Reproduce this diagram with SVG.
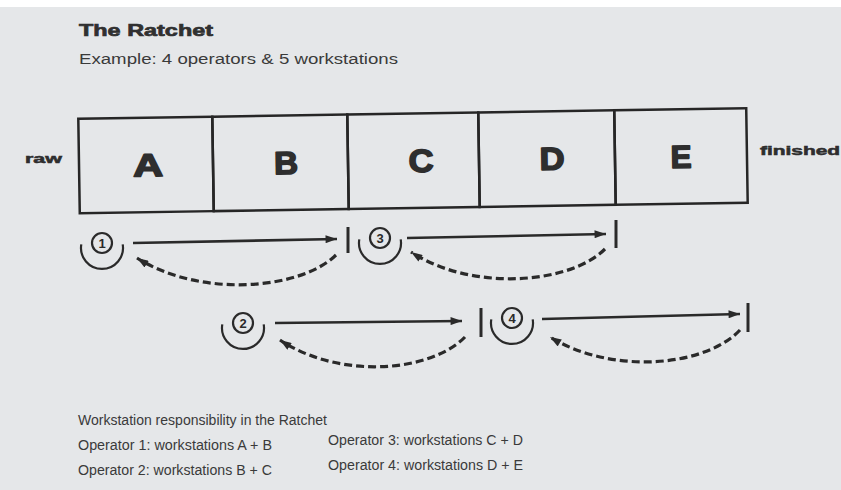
<svg xmlns="http://www.w3.org/2000/svg" width="841" height="490" viewBox="0 0 841 490">
<style>
.bg{fill:#e5e7e9}
.box{fill:none;stroke:#262626;stroke-width:2.5}
.letter{font-family:"Liberation Sans",Arial,sans-serif;font-weight:900;font-size:32px;fill:#2e2e2e;stroke:#2e2e2e;stroke-width:1.6;stroke-linejoin:round;text-anchor:middle}
.side{font-family:"Liberation Sans",Arial,sans-serif;font-weight:bold;font-size:12px;fill:#2e2e2e;stroke:#2e2e2e;stroke-width:0.5}
.title{font-family:"Liberation Sans",Arial,sans-serif;font-weight:900;font-size:17px;fill:#303030;stroke:#303030;stroke-width:0.7}
.sub{font-family:"Liberation Sans",Arial,sans-serif;font-size:14px;fill:#3a3a3a}
.foot{font-family:"Liberation Sans",Arial,sans-serif;font-size:14px;fill:#3a3a3a}
.ring{fill:none;stroke:#2a2a2a;stroke-width:2.2}
.num{font-family:"Liberation Sans",Arial,sans-serif;font-weight:bold;font-size:13px;fill:#2a2a2a;text-anchor:middle}
.solid{fill:none;stroke:#2a2a2a;stroke-width:2.6}
.dash{fill:none;stroke:#2a2a2a;stroke-width:3.2;stroke-dasharray:8 4}
.bar{stroke:#2a2a2a;stroke-width:3}
</style>
<defs>
<marker id="ah" viewBox="0 0 10 7" refX="10" refY="3.5" markerWidth="12" markerHeight="8" markerUnits="userSpaceOnUse" orient="auto">
<path d="M0,0 L10,3.5 L0,7 Z" fill="#2a2a2a"/>
</marker>
</defs>
<rect class="bg" x="0" y="0" width="841" height="490"/>
<rect x="0" y="0" width="841" height="7" fill="#ffffff"/>

<g id="title">
<text class="title" x="79" y="36" textLength="134" lengthAdjust="spacingAndGlyphs">The Ratchet</text>
<text class="sub" x="79" y="64" textLength="319" lengthAdjust="spacingAndGlyphs">Example: 4 operators &amp; 5 workstations</text>
</g>

<g id="line" transform="rotate(-0.9 413 161)">
<g id="ws-A"><rect class="box" x="79" y="113.5" width="134" height="94.5"/><text class="letter" x="148" y="172" textLength="30" lengthAdjust="spacingAndGlyphs">A</text></g>
<g id="ws-B"><rect class="box" x="213" y="113.5" width="135" height="94.5"/><text class="letter" x="286" y="172" textLength="24" lengthAdjust="spacingAndGlyphs">B</text></g>
<g id="ws-C"><rect class="box" x="348" y="113.5" width="131" height="94.5"/><text class="letter" x="421" y="172" textLength="25" lengthAdjust="spacingAndGlyphs">C</text></g>
<g id="ws-D"><rect class="box" x="479" y="113.5" width="136" height="94.5"/><text class="letter" x="552" y="172" textLength="25" lengthAdjust="spacingAndGlyphs">D</text></g>
<g id="ws-E"><rect class="box" x="615" y="113.5" width="132" height="94.5"/><text class="letter" x="681" y="172" textLength="21" lengthAdjust="spacingAndGlyphs">E</text></g>
</g>

<g id="raw"><text class="side" x="25" y="163" textLength="37" lengthAdjust="spacingAndGlyphs">raw</text></g>
<g id="finished"><text class="side" x="760" y="155" textLength="80" lengthAdjust="spacingAndGlyphs">finished</text></g>

<g id="op1">
<circle class="ring" cx="102" cy="243" r="10"/>
<path class="ring" d="M81.3,244.4 A21 21 0 1 0 122.7,244.4"/>
<text class="num" x="102" y="247.5">1</text>
</g>
<g id="op3">
<circle class="ring" cx="380" cy="238" r="10"/>
<path class="ring" d="M359.3,239.4 A21 21 0 1 0 400.7,239.4"/>
<text class="num" x="380" y="242.5">3</text>
</g>
<g id="op2">
<circle class="ring" cx="243" cy="323" r="10"/>
<path class="ring" d="M222.3,324.4 A21 21 0 1 0 263.7,324.4"/>
<text class="num" x="243" y="327.5">2</text>
</g>
<g id="op4">
<circle class="ring" cx="512" cy="318" r="10"/>
<path class="ring" d="M491.3,319.4 A21 21 0 1 0 532.7,319.4"/>
<text class="num" x="512" y="322.5">4</text>
</g>

<g id="connectors">
<line class="solid" x1="133" y1="243" x2="337" y2="239" marker-end="url(#ah)"/>
<line class="bar" x1="348" y1="227" x2="348" y2="253"/>
<path class="dash" d="M336,255 C300,290 200,298 137,258" marker-end="url(#ah)"/>

<line class="solid" x1="407" y1="238" x2="606" y2="234" marker-end="url(#ah)"/>
<line class="bar" x1="616" y1="220" x2="616" y2="248"/>
<path class="dash" d="M605,249 C570,284 472,292 411,252" marker-end="url(#ah)"/>

<line class="solid" x1="275" y1="323" x2="462" y2="321" marker-end="url(#ah)"/>
<line class="bar" x1="481" y1="308" x2="481" y2="337"/>
<path class="dash" d="M465,337 C431,372 340,380 280,340" marker-end="url(#ah)"/>

<line class="solid" x1="542" y1="319" x2="740" y2="314" marker-end="url(#ah)"/>
<line class="bar" x1="748" y1="303" x2="748" y2="332"/>
<path class="dash" d="M740,330 C705,367 612,375 550,337" marker-end="url(#ah)"/>
</g>

<g id="legend">
<text class="foot" x="78" y="425" textLength="249" lengthAdjust="spacingAndGlyphs">Workstation responsibility in the Ratchet</text>
<text class="foot" x="78" y="450" textLength="194" lengthAdjust="spacingAndGlyphs">Operator 1:  workstations A + B</text>
<text class="foot" x="78" y="475" textLength="194" lengthAdjust="spacingAndGlyphs">Operator 2:  workstations B + C</text>
<text class="foot" x="328" y="445" textLength="195" lengthAdjust="spacingAndGlyphs">Operator 3:  workstations C + D</text>
<text class="foot" x="328" y="470" textLength="195" lengthAdjust="spacingAndGlyphs">Operator 4:  workstations D + E</text>
</g>
</svg>
